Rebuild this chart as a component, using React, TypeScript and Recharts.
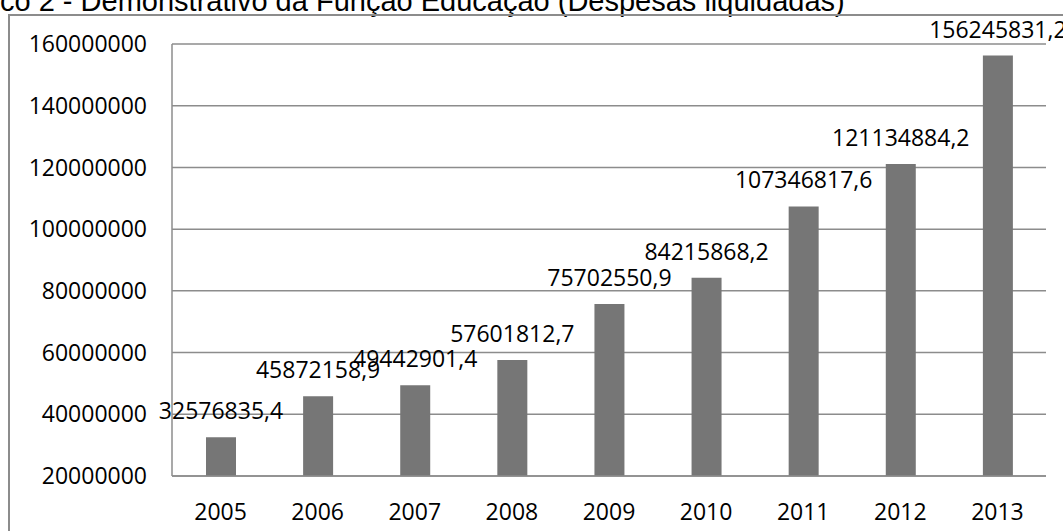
import React from "react";
import { BarChart, Bar, XAxis, YAxis, CartesianGrid, LabelList } from "recharts";

const years = ["2005", "2006", "2007", "2008", "2009", "2010", "2011", "2012", "2013"];
const despesas = [
  32576835.4, 45872158.9, 49442901.4, 57601812.7, 75702550.9, 84215868.2, 107346817.6, 121134884.2,
  156245831.2,
];
const yTicks = [20000000, 40000000, 60000000, 80000000, 100000000, 120000000, 140000000, 160000000];

const chartData = years.map((year, i) => ({ year, value: despesas[i] }));

const fmt = (v: any) => String(v).replace(".", ",");

const App: React.FC = () => {
  return (
    <div style={{ position: "absolute", left: 0, top: 0, width: 1063, height: 531, overflow: "hidden", background: "#fff" }}>
      <div
        style={{
          position: "absolute",
          left: 0,
          top: -14,
          fontFamily: "'Liberation Sans', Arial, sans-serif",
          fontSize: 29,
          lineHeight: "30px",
          whiteSpace: "nowrap",
          color: "#000",
        }}
      >
        co 2 - Demonstrativo da Função Educação (Despesas liquidadas)
      </div>
      <div
        style={{
          position: "absolute",
          left: 8,
          top: 14,
          width: 1200,
          height: 700,
          borderLeft: "2px solid #8c8c8c",
          borderTop: "2px solid #8c8c8c",
        }}
      />
      <div style={{ position: "absolute", left: 0, top: 0 }}>
        <BarChart
          width={1063}
          height={531}
          data={chartData}
          margin={{ top: 44, right: 17, left: 8, bottom: 0 }}
          style={{ fontFamily: "'Open Sans', sans-serif", overflow: "visible" }}
        >
          <CartesianGrid vertical={false} stroke="#8c8c8c" strokeWidth={1.5} />
          <XAxis
            dataKey="year"
            height={55}
            tickLine={false}
            axisLine={{ stroke: "#8c8c8c", strokeWidth: 1.5 }}
            tick={{ fill: "#000", fontSize: 23 }}
            tickMargin={22}
          />
          <YAxis
            width={164}
            domain={[20000000, 160000000]}
            ticks={yTicks}
            interval={0}
            tickLine={false}
            tickSize={0}
            tickMargin={25}
            axisLine={{ stroke: "#8c8c8c", strokeWidth: 1.5 }}
            tick={{ fill: "#000", fontSize: 23 }}
          />
          <Bar dataKey="value" fill="#767676" barSize={30} isAnimationActive={false}>
            <LabelList
              dataKey="value"
              position="top"
              offset={18}
              formatter={fmt}
              style={{ fill: "#000", fontSize: 23 }}
            />
          </Bar>
        </BarChart>
      </div>
    </div>
  );
};

export default App;
